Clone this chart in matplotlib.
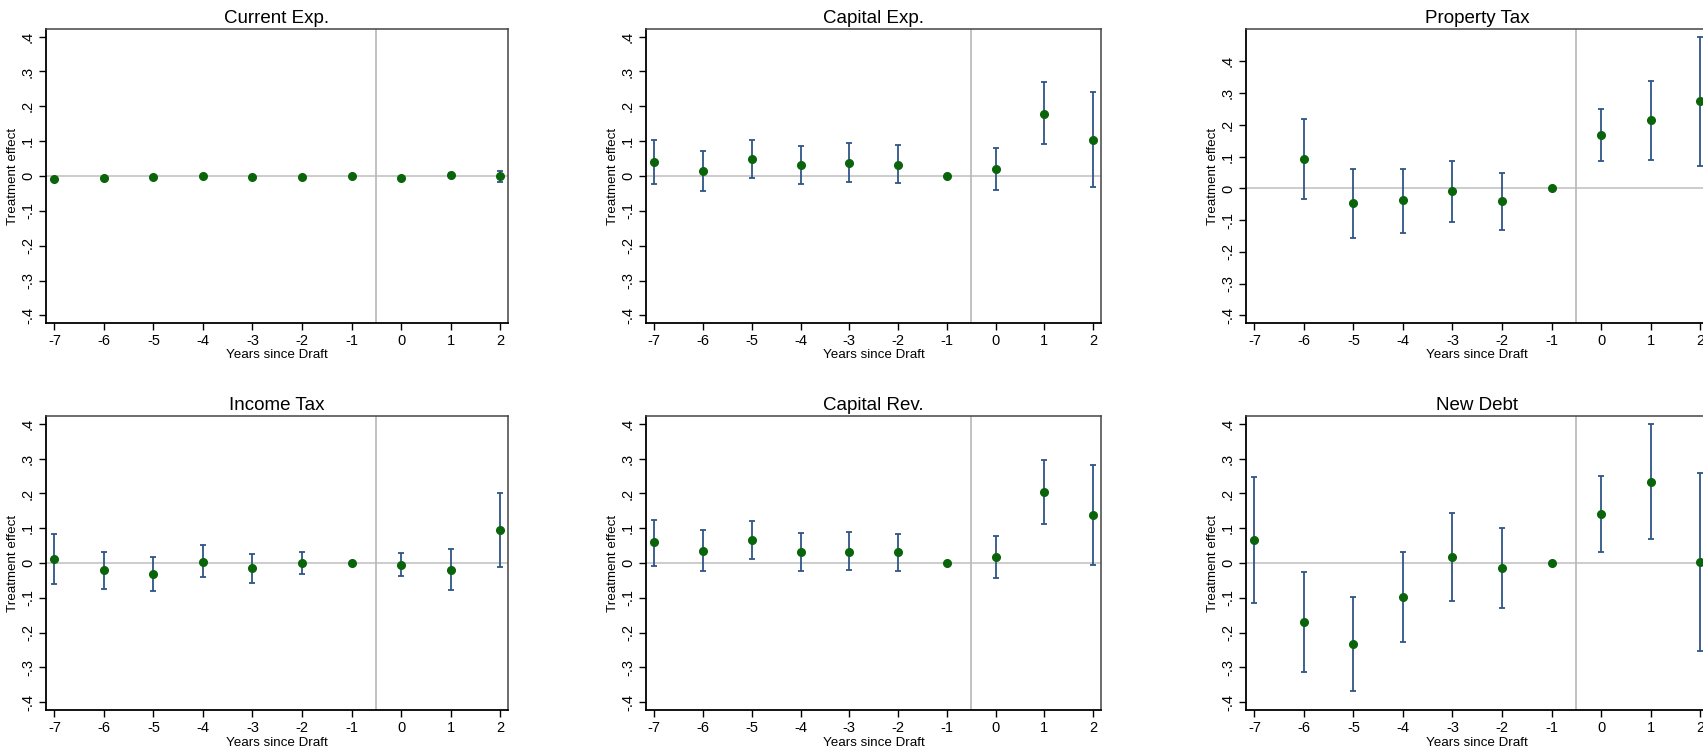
import numpy as np
import matplotlib.pyplot as plt

plt.rcParams['font.family'] = ['Liberation Sans', 'DejaVu Sans']

years = [-7, -6, -5, -4, -3, -2, -1, 0, 1, 2]
ytick_vals = [-0.4, -0.3, -0.2, -0.1, 0, 0.1, 0.2, 0.3, 0.4]
ytick_labels = ['-.4', '-.3', '-.2', '-.1', '0', '.1', '.2', '.3', '.4']

titles = ['Current Exp.', 'Capital Exp.', 'Property Tax',
          'Income Tax', 'Capital Rev.', 'New Debt']

# point estimates
cur_exp = [-0.008, -0.006, -0.002, -0.001, -0.004, -0.002, 0, -0.005, 0.004, -0.001]
cap_exp = [0.040, 0.013, 0.049, 0.031, 0.038, 0.033, 0, 0.021, 0.179, 0.103]
prop_tax = [np.nan, 0.092, -0.047, -0.038, -0.009, -0.041, 0, 0.168, 0.214, 0.274]
inc_tax = [0.011, -0.021, -0.031, 0.004, -0.015, -0.001, 0, -0.005, -0.019, 0.095]
cap_rev = [0.059, 0.035, 0.065, 0.033, 0.033, 0.031, 0, 0.018, 0.204, 0.139]
new_debt = [0.066, -0.170, -0.232, -0.097, 0.017, -0.015, 0, 0.140, 0.233, 0.004]

# upper / lower confidence bounds
cur_exp_hi = [-0.005, -0.003, 0.001, 0.002, -0.001, 0.001, 0, -0.002, 0.009, 0.014]
cur_exp_lo = [-0.011, -0.009, -0.005, -0.004, -0.007, -0.005, 0, -0.008, -0.001, -0.016]
cap_exp_hi = [0.104, 0.071, 0.102, 0.085, 0.094, 0.088, 0, 0.080, 0.269, 0.240]
cap_exp_lo = [-0.024, -0.043, -0.006, -0.023, -0.016, -0.020, 0, -0.039, 0.091, -0.032]
prop_tax_hi = [np.nan, 0.219, 0.060, 0.062, 0.087, 0.049, 0, 0.251, 0.339, 0.477]
prop_tax_lo = [np.nan, -0.035, -0.155, -0.139, -0.107, -0.131, 0, 0.085, 0.089, 0.071]
inc_tax_hi = [0.083, 0.033, 0.018, 0.051, 0.027, 0.032, 0, 0.028, 0.041, 0.200]
inc_tax_lo = [-0.061, -0.075, -0.080, -0.041, -0.057, -0.033, 0, -0.038, -0.078, -0.011]
cap_rev_hi = [0.124, 0.094, 0.120, 0.087, 0.088, 0.084, 0, 0.079, 0.295, 0.282]
cap_rev_lo = [-0.008, -0.023, 0.011, -0.022, -0.021, -0.023, 0, -0.042, 0.112, -0.006]
new_debt_hi = [0.247, -0.025, -0.097, 0.033, 0.144, 0.100, 0, 0.250, 0.401, 0.259]
new_debt_lo = [-0.115, -0.315, -0.367, -0.228, -0.109, -0.130, 0, 0.031, 0.068, -0.252]

points = [cur_exp, cap_exp, prop_tax, inc_tax, cap_rev, new_debt]
highs = [cur_exp_hi, cap_exp_hi, prop_tax_hi, inc_tax_hi, cap_rev_hi, new_debt_hi]
lows = [cur_exp_lo, cap_exp_lo, prop_tax_lo, inc_tax_lo, cap_rev_lo, new_debt_lo]
ylims = [(-0.422, 0.422), (-0.422, 0.422), (-0.424, 0.502),
         (-0.423, 0.423), (-0.423, 0.423), (-0.423, 0.423)]

W, H = 1703, 750
fig = plt.figure(figsize=(W / 100, H / 100), dpi=100)

# axes boxes in pixels: left, top, width, height
col_left = [46, 646, 1246]
col_width = [462, 455, 462]
row_top = [29, 416]
row_height = [294, 294]

for i in range(6):
    r, c = divmod(i, 3)
    left = col_left[c] / W
    bottom = 1 - (row_top[r] + row_height[r]) / H
    ax = fig.add_axes([left, bottom, col_width[c] / W, row_height[r] / H])

    y = np.array(points[i], dtype=float)
    hi = np.array(highs[i], dtype=float)
    lo = np.array(lows[i], dtype=float)

    ax.axhline(0, color='#c4c4c4', lw=1.2, zorder=1)
    ax.axvline(-0.5, color='#b8b8b8', lw=1.2, zorder=1)

    ax.errorbar(years, y, yerr=[y - lo, hi - y], fmt='none',
                ecolor='#2f5586', elinewidth=1.3, capsize=2.5, capthick=1.3, zorder=2)
    ax.plot(years, y, 'o', color='#0a640a', markersize=5.5, zorder=3)

    ax.set_xlim(-7.17, 2.16)
    ax.set_ylim(*ylims[i])
    ax.set_xticks(years)
    ax.set_xticklabels([str(v) for v in years], fontsize=10.5)
    ax.set_yticks(ytick_vals)
    ax.set_yticklabels(ytick_labels, fontsize=10.5, rotation=90, va='center')
    ax.tick_params(direction='out', length=5, width=1, color='black', pad=3)

    for side in ['left', 'bottom']:
        ax.spines[side].set_linewidth(1.3)
        ax.spines[side].set_color('black')
    for side in ['top', 'right']:
        ax.spines[side].set_linewidth(1.1)
        ax.spines[side].set_color('#444444')

    ax.set_title(titles[i], fontsize=13.5, pad=4)
    ax.set_xlabel('Years since Draft', fontsize=9.6, labelpad=1)
    ax.set_ylabel('Treatment effect', fontsize=9.6, labelpad=1)

fig.savefig('out.png', dpi=100)
